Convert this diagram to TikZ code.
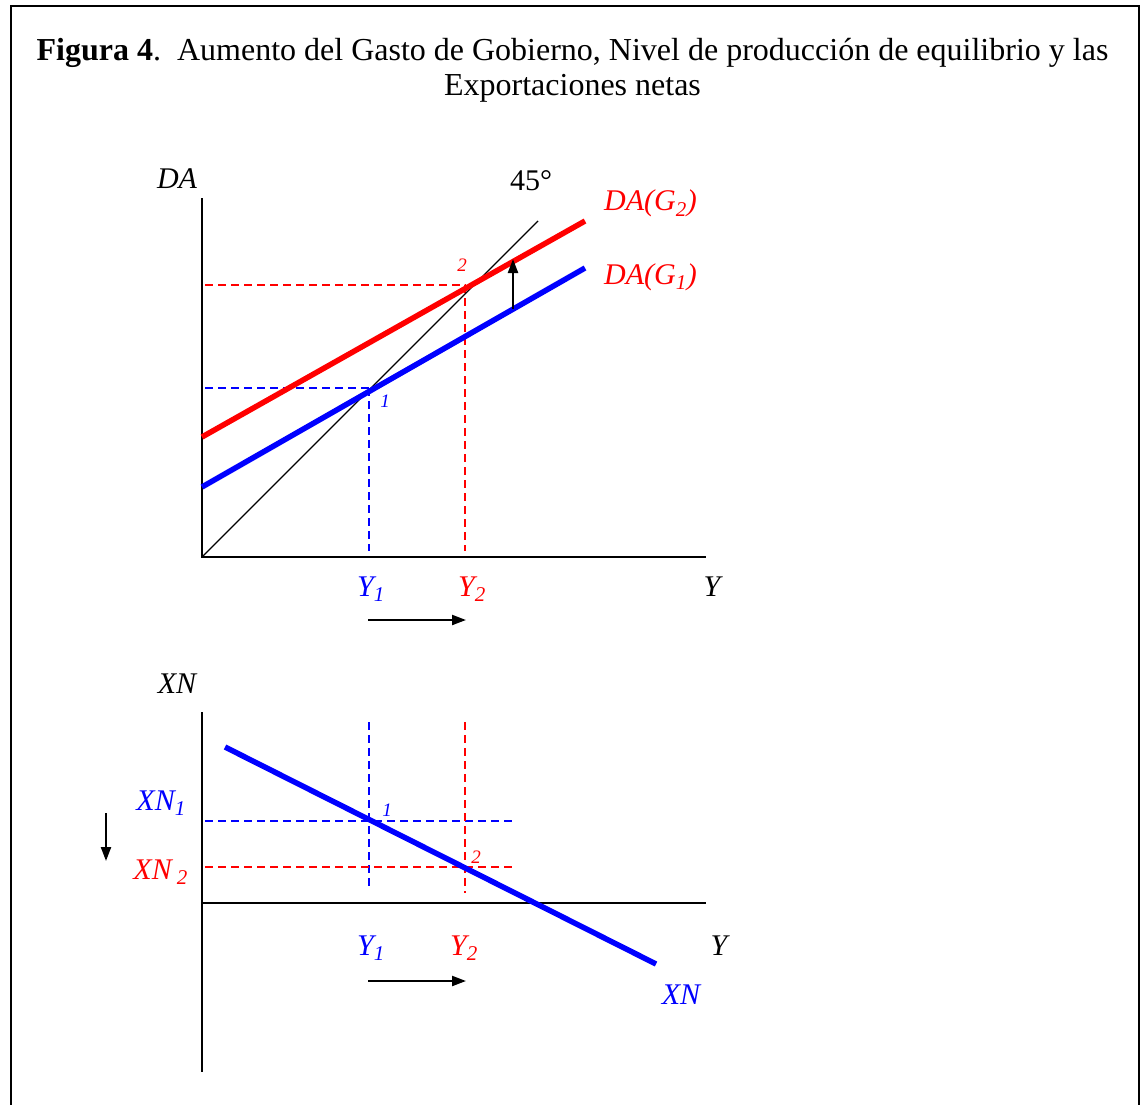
\documentclass[tikz,border=0pt]{standalone}
\usepackage{fontspec}
\setmainfont{Liberation Serif}
\usetikzlibrary{arrows.meta}
\definecolor{myblue}{RGB}{0,0,255}
\definecolor{myred}{RGB}{255,0,0}
\begin{document}
\begin{tikzpicture}[x=1pt,y=-1pt,
  lbl/.style={font=\fontsize{30}{33}\selectfont\itshape, inner sep=0pt},
  ttl/.style={font=\fontsize{32}{35}\selectfont, inner sep=0pt},
  smalllbl/.style={font=\fontsize{19}{20}\selectfont\itshape, inner sep=0pt},
  axisline/.style={line width=2pt},
  curve/.style={line width=5.5pt},
  guide/.style={line width=1.6pt, dash pattern=on 8pt off 5pt},
  shiftarrow/.style={line width=2.2pt,-{Triangle[length=14pt,width=10pt]}}]
\useasboundingbox (0,0) rectangle (1141,1105);
% frame
\draw[line width=2.5pt] (11,1106) -- (11,6) -- (1139,6) -- (1139,1106);
% title
\node[ttl, anchor=base] (t1) at (572.5,61) {\textbf{Figura 4}.\ \ Aumento del Gasto de Gobierno, Nivel de producción de equilibrio y las};
\node[ttl, anchor=base] (t2) at (572.5,96) {Exportaciones netas};

% ---------- top chart ----------
\coordinate (O1) at (202,557);
\coordinate (Vtop1) at (202,198);
\coordinate (Hend1) at (706,557);
\coordinate (F45) at (538,221);
\coordinate (B1s) at (202,487);
\coordinate (B1e) at (585,268);
\coordinate (R2s) at (202,437);
\coordinate (R2e) at (585,221);
\coordinate (E1) at (369,388);
\coordinate (E2) at (465,285);

\draw[guide, myred] (205,285) -- (E2) -- (465,551);
\draw[guide, myblue] (205,388) -- (372,388);
\draw[guide, myblue] (E1) -- (369,551);

\draw[axisline] (Vtop1) -- (O1) -- (Hend1);
\draw[line width=1.4pt] (O1) -- (F45);
\draw[curve, myblue] (B1s) -- (B1e);
\draw[curve, myred] (R2s) -- (R2e);

\coordinate (Ua) at (513,309);
\coordinate (Ub) at (513,259);
\draw[shiftarrow] (Ua) -- (Ub);

\node[lbl, anchor=base] (DA) at (177,189) {DA};
\node[font=\fontsize{30}{33}\selectfont, inner sep=0pt, anchor=base] (deg) at (531,190) {45°};
\node[lbl, anchor=base west, myred] (DAG2) at (604,211) {DA(G\textsubscript{2})};
\node[lbl, anchor=base west, myred] (DAG1) at (604,284) {DA(G\textsubscript{1})};
\node[smalllbl, myblue] (p1) at (385,401) {1};
\node[smalllbl, myred] (p2) at (462,265) {2};
\node[lbl, anchor=base, myblue] (Y1a) at (371,596) {Y\textsubscript{1}};
\node[lbl, anchor=base, myred] (Y2a) at (472,596) {Y\textsubscript{2}};
\node[lbl, anchor=base] (Ya) at (712,596) {Y};
\coordinate (Aa) at (368,620);
\coordinate (Ab) at (466,620);
\draw[shiftarrow] (Aa) -- (Ab);

% ---------- bottom chart ----------
\coordinate (O2) at (202,903);
\coordinate (Vtop2) at (202,712);
\coordinate (Vbot2) at (202,1072);
\coordinate (Hend2) at (706,903);
\coordinate (XNs) at (225,747);
\coordinate (XNe) at (656,964);

\draw[guide, myblue] (369,722) -- (369,888);
\draw[guide, myblue] (205,821) -- (514,821);
\draw[guide, myred] (465,722) -- (465,893);
\draw[guide, myred] (205,867) -- (514,867);

\draw[axisline] (Vtop2) -- (Vbot2);
\draw[axisline] (O2) -- (Hend2);
\draw[curve, myblue] (XNs) -- (XNe);

\node[lbl, anchor=base] (XNax) at (177,693) {XN};
\node[lbl, anchor=base east, myblue] (XN1) at (186,810) {XN\textsubscript{1}};
\node[lbl, anchor=base east, myred] (XN2) at (188,879) {XN\,\textsubscript{2}};
\node[smalllbl, myblue] (q1) at (387,810) {1};
\node[smalllbl, myred] (q2) at (476,857) {2};
\coordinate (Da) at (106,813);
\coordinate (Db) at (106,861);
\draw[shiftarrow] (Da) -- (Db);
\node[lbl, anchor=base, myblue] (Y1b) at (371,955) {Y\textsubscript{1}};
\node[lbl, anchor=base, myred] (Y2b) at (464,955) {Y\textsubscript{2}};
\node[lbl, anchor=base] (Yb) at (719,955) {Y};
\node[lbl, anchor=base, myblue] (XNlab) at (681,1004) {XN};
\coordinate (Ba) at (368,981);
\coordinate (Bb) at (466,981);
\draw[shiftarrow] (Ba) -- (Bb);
\end{tikzpicture}
\end{document}
